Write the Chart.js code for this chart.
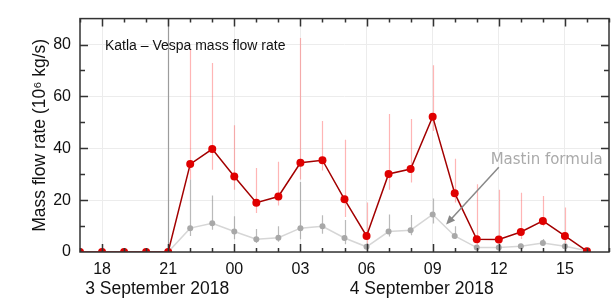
<!DOCTYPE html>
<html><head><meta charset="utf-8">
<script src="https://cdn.jsdelivr.net/npm/chart.js@4.4.1/dist/chart.umd.min.js"></script>
<style>html,body{margin:0;padding:0;background:#fff}canvas{display:block}</style>
</head><body>
<canvas id="c" width="616" height="298"></canvas>
<script>
// hours counted from 3 September 2018 00:00 UTC (24 = 4 Sep 00:00)
const HOURS       = [17,18,19,20,21,22,23,24,25,26,27,28,29,30,31,32,33,34,35,36,37,38,39,40];
const VESPA       = [0,0,0,0,0,33.9,39.7,29.1,19.0,21.4,34.4,35.4,20.3,6.2,30.1,32.0,52.2,22.7,4.9,4.8,7.7,12.0,6.2,0.3];
const VESPA_LOW   = [null,null,null,null,null,28,31.7,24,15,17.9,28,31.4,13.5,1,24,26.8,46.7,19.1,2,2.5,5,9.9,3,null];
const VESPA_HIGH  = [null,null,null,null,null,78.4,72.9,48.9,32.4,34.8,82.5,50.5,43.3,19.1,53.2,51.3,72,36,26.1,24,22.8,21.6,17.2,null];
const MASTIN      = [0,0,0,0,0,9.2,11.1,7.9,4.9,5.5,9.2,9.9,5.4,2.0,7.9,8.4,14.5,6.2,1.7,1.7,2.2,3.5,2.2,0.5];
const MASTIN_LOW  = [null,null,null,null,null,6.2,8.6,4.9,3.5,4,4.9,7,3,1,6,6.5,11,5,1,1,1.5,2.5,1.5,null];
const MASTIN_HIGH = [null,null,null,null,null,28,21.8,13.8,8.9,9.9,27,14.2,12.3,3.5,14.5,14.3,20.6,9.9,2.5,2.5,3.2,5,3,null];
const X_TICKS = [18,21,24,27,30,33,36,39];
const Y_TICKS = [0,20,40,60,80];
const DATE_LABELS = [{x:20.5,text:'3 September 2018'},{x:32.5,text:'4 September 2018'}];
const ONSET_HOUR = 21;
const TITLE = {x:18.13, y:77.9, text:'Katla – Vespa mass flow rate'};
const Y_TITLE = 'Mass flow rate (10⁶ kg/s)';
const ANNOT = {x:35.63, y:34.1, text:'Mastin formula', fromX:36.0, fromY:32.7, toX:33.61, toY:10.6};

const deco = {
  id:'deco',
  beforeDatasetsDraw(chart){
    const {ctx, chartArea:a, scales:{x,y}} = chart;
    ctx.save();
    ctx.beginPath(); ctx.rect(a.left,a.top,a.right-a.left,a.bottom-a.top); ctx.clip();
    const xo = Math.round(x.getPixelForValue(ONSET_HOUR))+0.5;
    ctx.strokeStyle='#9c9c9c'; ctx.lineWidth=1.2;
    ctx.beginPath(); ctx.moveTo(xo,a.top); ctx.lineTo(xo,a.bottom); ctx.stroke();
    function bars(lo,hi,color){
      ctx.strokeStyle=color; ctx.lineWidth=1.2;
      HOURS.forEach((h,i)=>{
        if(lo[i]==null) return;
        const px=Math.round(x.getPixelForValue(h))+0.5;
        ctx.beginPath(); ctx.moveTo(px,y.getPixelForValue(lo[i])); ctx.lineTo(px,y.getPixelForValue(hi[i])); ctx.stroke();
      });
    }
    bars(VESPA_LOW,VESPA_HIGH,'rgba(255,90,90,0.45)');
    bars(MASTIN_LOW,MASTIN_HIGH,'rgba(140,140,140,0.6)');
    ctx.restore();
  },
  afterDraw(chart){
    const {ctx, chartArea:a, scales:{x,y}} = chart;
    ctx.save();
    ctx.strokeStyle='#333'; ctx.lineWidth=1.5;
    // inward ticks
    for(let h=Math.ceil(x.min); h<=x.max; h++){
      const px=Math.round(x.getPixelForValue(h))+0.5;
      const len = h%3===0 ? 8 : 4;
      ctx.beginPath(); ctx.moveTo(px,a.bottom); ctx.lineTo(px,a.bottom-len);
      ctx.moveTo(px,a.top); ctx.lineTo(px,a.top+len); ctx.stroke();
    }
    for(let v=10; v<y.max; v+=10){
      const py=Math.round(y.getPixelForValue(v))+0.5;
      const len = v%20===0 ? 8 : 5;
      ctx.beginPath(); ctx.moveTo(a.left,py); ctx.lineTo(a.left+len,py);
      ctx.moveTo(a.right,py); ctx.lineTo(a.right-len,py); ctx.stroke();
    }
    ctx.strokeRect(a.left,a.top,a.right-a.left,a.bottom-a.top);
    // title
    ctx.fillStyle='#111'; ctx.font='14px "Liberation Sans", Arial, sans-serif';
    ctx.textBaseline='alphabetic'; ctx.textAlign='left';
    ctx.fillText(TITLE.text, x.getPixelForValue(TITLE.x), y.getPixelForValue(TITLE.y));
    // date labels
    ctx.font='17.5px "Liberation Sans", Arial, sans-serif'; ctx.textAlign='center';
    DATE_LABELS.forEach(d=>ctx.fillText(d.text, x.getPixelForValue(d.x), a.bottom+42));
    // annotation
    ctx.fillStyle='#aaaaaa'; ctx.font='15px "DejaVu Sans", sans-serif'; ctx.textAlign='left';
    ctx.fillText(ANNOT.text, x.getPixelForValue(ANNOT.x), y.getPixelForValue(ANNOT.y));
    const x1=x.getPixelForValue(ANNOT.fromX), y1=y.getPixelForValue(ANNOT.fromY);
    const x2=x.getPixelForValue(ANNOT.toX), y2=y.getPixelForValue(ANNOT.toY);
    const ang=Math.atan2(y2-y1,x2-x1), hl=9, hw=4;
    ctx.strokeStyle='#888'; ctx.fillStyle='#888'; ctx.lineWidth=1.5;
    ctx.beginPath(); ctx.moveTo(x1,y1); ctx.lineTo(x2-Math.cos(ang)*hl*0.8,y2-Math.sin(ang)*hl*0.8); ctx.stroke();
    ctx.beginPath(); ctx.moveTo(x2,y2);
    ctx.lineTo(x2-Math.cos(ang)*hl-Math.sin(ang)*hw, y2-Math.sin(ang)*hl+Math.cos(ang)*hw);
    ctx.lineTo(x2-Math.cos(ang)*hl+Math.sin(ang)*hw, y2-Math.sin(ang)*hl-Math.cos(ang)*hw);
    ctx.closePath(); ctx.fill();
    ctx.restore();
  }
};

new Chart(document.getElementById('c'), {
  type:'line',
  data:{datasets:[
    {label:'Vespa', data:HOURS.map((h,i)=>({x:h,y:VESPA[i]})), borderColor:'#a30000', borderWidth:1.5,
     pointBackgroundColor:'#e00000', pointBorderColor:'#e00000', pointRadius:4, pointBorderWidth:0, clip:0, order:0, tension:0},
    {label:'Mastin', data:HOURS.map((h,i)=>({x:h,y:MASTIN[i]})), borderColor:'#d6d6d6', borderWidth:1.5,
     pointBackgroundColor:'#a8a8a8', pointBorderColor:'#a8a8a8', pointRadius:3, pointBorderWidth:0, clip:0, order:1, tension:0}
  ]},
  options:{
    responsive:false, animation:false, devicePixelRatio:1,
    layout:{padding:{top:8,right:7,left:0,bottom:0}},
    plugins:{legend:{display:false}, tooltip:{enabled:false}},
    scales:{
      x:{type:'linear', min:17, max:41,
        afterBuildTicks:s=>{s.ticks=X_TICKS.map(v=>({value:v}));},
        afterFit:s=>{s.height=46;},
        grid:{color:'#ececec', lineWidth:1, drawTicks:false},
        border:{display:false},
        ticks:{padding:8, color:'#111', font:{family:'"Liberation Sans", Arial, sans-serif', size:16},
          callback:v=>String(((v%24)+24)%24).padStart(2,'0'), maxRotation:0, autoSkip:false}
      },
      y:{type:'linear', min:0, max:90,
        afterBuildTicks:s=>{s.ticks=Y_TICKS.map(v=>({value:v}));},
        afterFit:s=>{s.width=80;},
        grid:{color:'#ececec', lineWidth:1, drawTicks:false},
        border:{display:false},
        ticks:{padding:9, color:'#111', font:{family:'"Liberation Sans", Arial, sans-serif', size:16}},
        title:{display:true, text:Y_TITLE, color:'#111', padding:{top:30,bottom:0},
          font:{family:'"Liberation Sans", Arial, sans-serif', size:17.5}}
      }
    }
  },
  plugins:[deco]
});
</script>
</body></html>
